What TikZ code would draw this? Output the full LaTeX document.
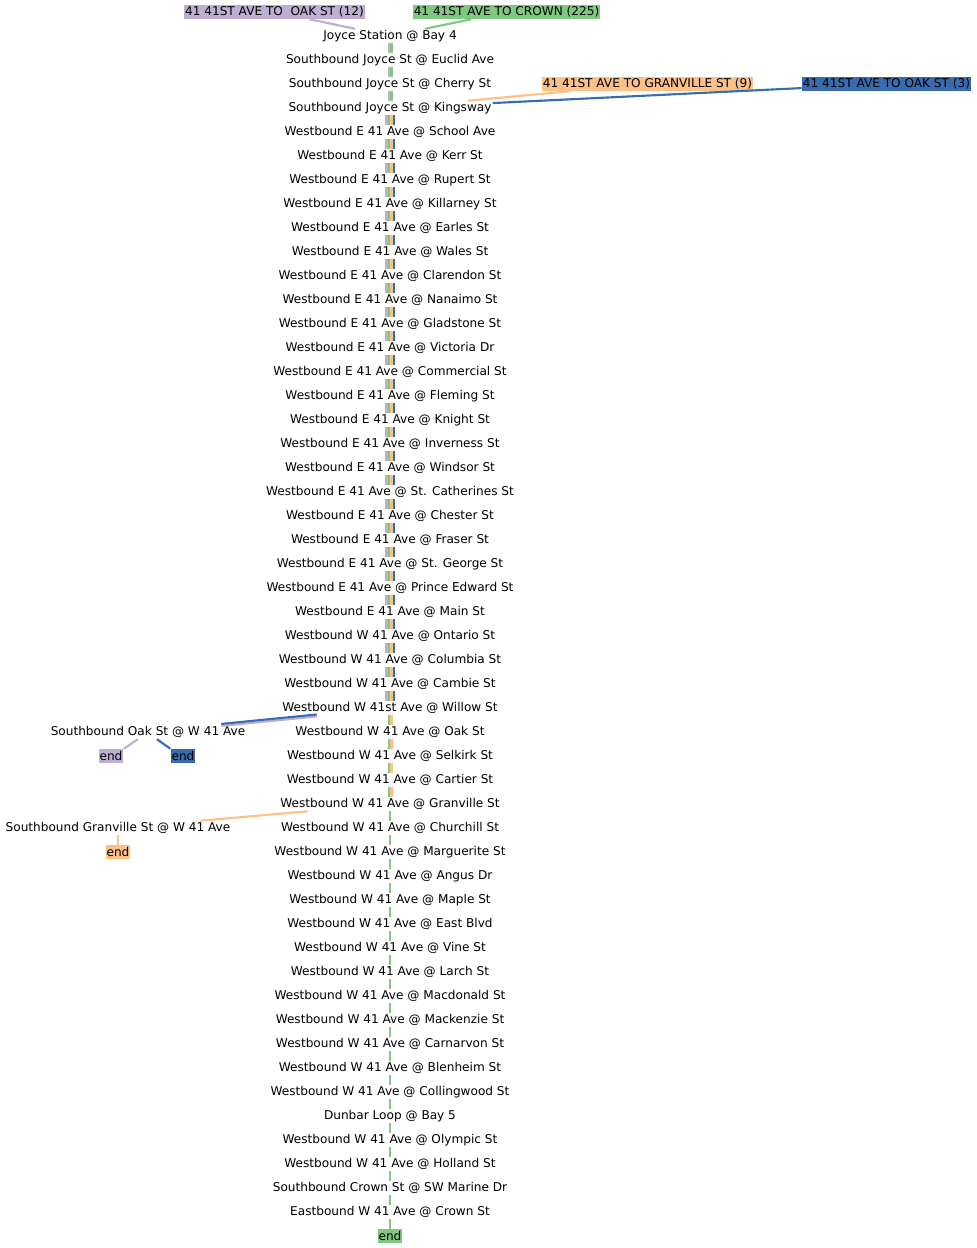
\documentclass[tikz,border=0pt]{standalone}
\usepackage{fontspec}
\setmainfont{DejaVu Sans}
\definecolor{cgreen}{HTML}{7FC97F}
\definecolor{cpurple}{HTML}{BEAED4}
\definecolor{corange}{HTML}{FDC086}
\definecolor{cblue}{HTML}{386CB0}
\begin{document}
\begin{tikzpicture}[x=0.75pt,y=-0.75pt,
  stop/.style={inner xsep=0.75pt, inner ysep=0pt, minimum height=10.5pt, font=\fontsize{9.08}{10}\selectfont},
  lbl/.style={stop, fill=#1},
  seg/.style={draw=#1, line width=1.875pt},
  br/.style={draw=#1, line width=1.6pt},
]
\useasboundingbox (0,0) rectangle (977,1248);
\foreach \t [count=\i from 0] in {
Joyce Station @ Bay 4,
Southbound Joyce St @ Euclid Ave,
Southbound Joyce St @ Cherry St,
Southbound Joyce St @ Kingsway,
Westbound E 41 Ave @ School Ave,
Westbound E 41 Ave @ Kerr St,
Westbound E 41 Ave @ Rupert St,
Westbound E 41 Ave @ Killarney St,
Westbound E 41 Ave @ Earles St,
Westbound E 41 Ave @ Wales St,
Westbound E 41 Ave @ Clarendon St,
Westbound E 41 Ave @ Nanaimo St,
Westbound E 41 Ave @ Gladstone St,
Westbound E 41 Ave @ Victoria Dr,
Westbound E 41 Ave @ Commercial St,
Westbound E 41 Ave @ Fleming St,
Westbound E 41 Ave @ Knight St,
Westbound E 41 Ave @ Inverness St,
Westbound E 41 Ave @ Windsor St,
Westbound E 41 Ave @ St. Catherines St,
Westbound E 41 Ave @ Chester St,
Westbound E 41 Ave @ Fraser St,
Westbound E 41 Ave @ St. George St,
Westbound E 41 Ave @ Prince Edward St,
Westbound E 41 Ave @ Main St,
Westbound W 41 Ave @ Ontario St,
Westbound W 41 Ave @ Columbia St,
Westbound W 41 Ave @ Cambie St,
Westbound W 41st Ave @ Willow St,
Westbound W 41 Ave @ Oak St,
Westbound W 41 Ave @ Selkirk St,
Westbound W 41 Ave @ Cartier St,
Westbound W 41 Ave @ Granville St,
Westbound W 41 Ave @ Churchill St,
Westbound W 41 Ave @ Marguerite St,
Westbound W 41 Ave @ Angus Dr,
Westbound W 41 Ave @ Maple St,
Westbound W 41 Ave @ East Blvd,
Westbound W 41 Ave @ Vine St,
Westbound W 41 Ave @ Larch St,
Westbound W 41 Ave @ Macdonald St,
Westbound W 41 Ave @ Mackenzie St,
Westbound W 41 Ave @ Carnarvon St,
Westbound W 41 Ave @ Blenheim St,
Westbound W 41 Ave @ Collingwood St,
Dunbar Loop @ Bay 5,
Westbound W 41 Ave @ Olympic St,
Westbound W 41 Ave @ Holland St,
Southbound Crown St @ SW Marine Dr,
Eastbound W 41 Ave @ Crown St}
{ \node[stop] (s\i) at (390,{36+24*\i}) {\t}; }
\node[lbl=cgreen] (s50) at (390,1236) {end};

% top labels
\node[lbl=cpurple] (lp) at (274.5,12) {41 41ST AVE TO\ \ OAK ST (12)};
\node[lbl=cgreen] (lg) at (506.5,12) {41 41ST AVE TO CROWN (225)};
\node[lbl=corange] (lo) at (647.5,84) {41 41ST AVE TO GRANVILLE ST (9)};
\node[lbl=cblue] (lb) at (886.5,84) {41 41ST AVE TO OAK ST (3)};

% left branches
\node[stop] (oak) at (148,732) {Southbound Oak St @ W 41 Ave};
\node[lbl=cpurple] (e1) at (111,756) {end};
\node[lbl=cblue] (e2) at (183,756) {end};
\node[stop] (gr) at (118,828) {Southbound Granville St @ W 41 Ave};
\node[lbl=corange] (e3) at (118,852) {end};

% label connectors
\draw[br=cpurple] (lp) -- (s0);
\draw[br=cgreen] (lg) -- (s0);
\draw[br=corange] (lo) -- (s3);
\draw[br=cblue] (lb) -- (s3);

% trunk segments
\foreach \a in {0,...,2} {
  \pgfmathtruncatemacro\b{\a+1}
  \draw[seg=cpurple] ([xshift=-0.94pt]s\a.south) -- ([xshift=-0.94pt]s\b.north);
  \draw[seg=cgreen] ([xshift=0.94pt]s\a.south) -- ([xshift=0.94pt]s\b.north);
}
\foreach \a in {3,...,27} {
  \pgfmathtruncatemacro\b{\a+1}
  \draw[seg=cpurple] ([xshift=-2.81pt]s\a.south) -- ([xshift=-2.81pt]s\b.north);
  \draw[seg=cgreen] ([xshift=-0.94pt]s\a.south) -- ([xshift=-0.94pt]s\b.north);
  \draw[seg=corange] ([xshift=0.94pt]s\a.south) -- ([xshift=0.94pt]s\b.north);
  \draw[seg=cblue] ([xshift=2.81pt]s\a.south) -- ([xshift=2.81pt]s\b.north);
}
\foreach \a in {28,...,31} {
  \pgfmathtruncatemacro\b{\a+1}
  \draw[seg=cgreen] ([xshift=-0.94pt]s\a.south) -- ([xshift=-0.94pt]s\b.north);
  \draw[seg=corange] ([xshift=0.94pt]s\a.south) -- ([xshift=0.94pt]s\b.north);
}
\foreach \a in {32,...,49} {
  \pgfmathtruncatemacro\b{\a+1}
  \draw[seg=cgreen] (s\a.south) -- (s\b.north);
}

% branch connectors
\draw[br=cpurple, transform canvas={yshift=-0.9pt}] (s28) -- (oak);
\draw[br=cblue, transform canvas={yshift=0.6pt}] (s28) -- (oak);
\draw[br=cpurple] ([xshift=-7.5pt]oak.south) -- (e1.north east);
\draw[br=cblue] ([xshift=6.75pt]oak.south) -- (e2.north west);
\draw[br=corange] (s32) -- (gr);
\draw[br=corange] (gr) -- (e3);
\end{tikzpicture}
\end{document}
